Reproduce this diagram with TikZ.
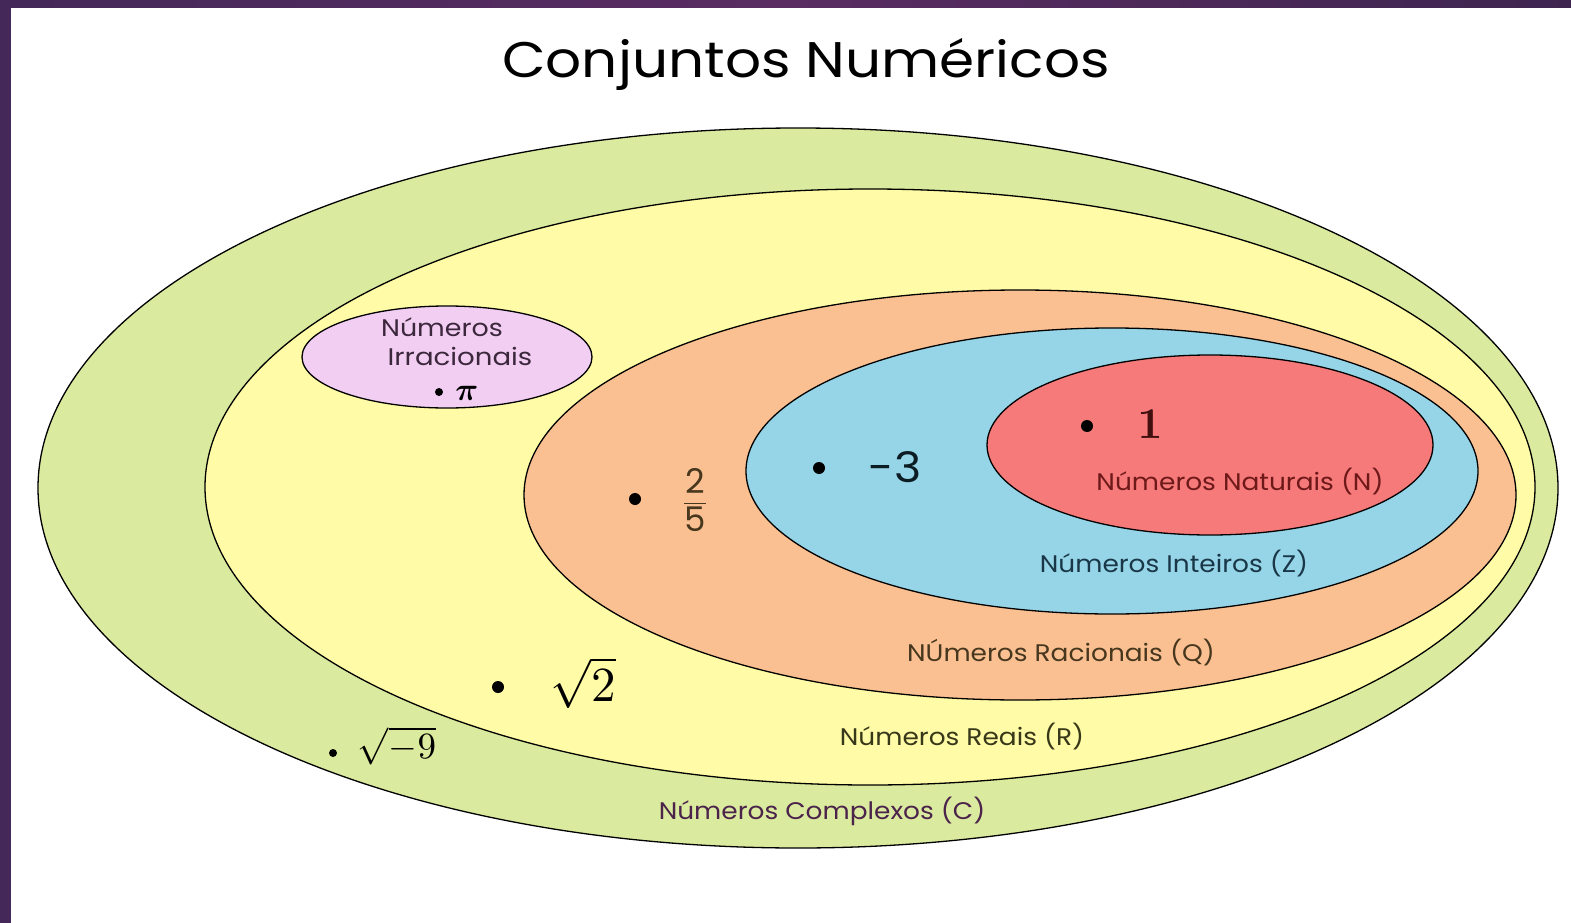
\documentclass[tikz,border=0pt]{standalone}
\usepackage{graphicx}
\usepackage{amsmath}
\usepackage{bm}
\usepackage{fontspec}
\setmainfont{Poppins}
\definecolor{cgreen}{RGB}{218,234,158}
\definecolor{cyellow}{RGB}{255,251,166}
\definecolor{corange}{RGB}{251,192,146}
\definecolor{cblue}{RGB}{150,212,232}
\definecolor{cred}{RGB}{246,122,122}
\definecolor{cpink}{RGB}{243,206,243}
\definecolor{purA}{RGB}{68,40,90}
\definecolor{purB}{RGB}{90,44,98}
\definecolor{purC}{RGB}{62,37,80}
\definecolor{tIrr}{RGB}{60,40,60}
\definecolor{tNat}{RGB}{110,25,25}
\definecolor{tInt}{RGB}{25,55,70}
\definecolor{tRac}{RGB}{70,55,30}
\definecolor{tRea}{RGB}{55,55,25}
\definecolor{tCom}{RGB}{75,35,75}
\newcommand\widetxt[1]{\scalebox{1.1}[1]{#1}}
\tikzset{
  setline/.style={draw=black, line width=1.3pt},
  lab/.style={inner sep=0pt, font=\fontsize{24}{28}\selectfont},
  mth/.style={inner sep=0pt, font=\normalsize},
  bigdot/.style={circle, fill=black, inner sep=0pt, minimum size=12pt},
  smalldot/.style={circle, fill=black, inner sep=0pt, minimum size=8pt},
}
\begin{document}
\begin{tikzpicture}[x=1pt,y=-1pt]
\useasboundingbox (0,0) rectangle (1571,923);
\fill[white] (0,0) rectangle (1571,923);
% purple frame
\shade[left color=purA, right color=purC, middle color=purB] (0,0) rectangle (1571,8);
\fill[purA] (0,0) rectangle (11,923);
% title
\node[inner sep=0pt, font=\fontsize{50}{56}\selectfont] (title) at (806,64) {\scalebox{1.13}[1]{Conjuntos Numéricos}};
% sets
\filldraw[setline, fill=cgreen] (798,488) ellipse [x radius=760pt, y radius=360pt];
\filldraw[setline, fill=cyellow] (870,487) ellipse [x radius=665pt, y radius=298pt];
\filldraw[setline, fill=cpink] (447,357) ellipse [x radius=145pt, y radius=51pt];
\filldraw[setline, fill=corange] (1020,495) ellipse [x radius=496pt, y radius=205pt];
\filldraw[setline, fill=cblue] (1112,471) ellipse [x radius=366pt, y radius=143pt];
\filldraw[setline, fill=cred] (1210,445) ellipse [x radius=223pt, y radius=90pt];
% Irracionais
\node[lab, text=tIrr] (irr1) at (442,327) {\scalebox{1.12}[1]{Números}};
\node[lab, text=tIrr] (irr2) at (460,356) {\scalebox{1.15}[1]{Irracionais}};
\node[smalldot] (dpi) at (439,392) {};
\node[mth, text=black] (pi) at (467,393) {\scalebox{3.2}{$\bm{\pi}$}};
% Naturais
\node[bigdot] (d1) at (1087,426) {};
\node[mth, text=tNat!60!black] (one) at (1150,424) {\scalebox{4.4}{$\bm{1}$}};
\node[lab, text=tNat] (nat) at (1240,482) {\widetxt{Números Naturais (N)}};
% Inteiros
\node[bigdot] (dm3) at (819,468) {};
\node[inner sep=0pt, font=\fontsize{42}{46}\selectfont, text=tInt!50!black] (m3) at (895,467) {\scalebox{1.1}[1]{-3}};
\node[lab, text=tInt] (int) at (1174,564) {\widetxt{Números Inteiros (Z)}};
% Racionais
\node[bigdot] (d25) at (635,499) {};
\node[inner sep=0pt, font=\fontsize{34}{38}\selectfont, text=tRac] (frac) at (695,500) {$\displaystyle\frac{\mbox{2}}{\mbox{5}}$};
\node[lab, text=tRac] (rac) at (1061,653) {\widetxt{NÚmeros Racionais (Q)}};
% Reais
\node[bigdot] (dr2) at (498,687) {};
\node[mth] (r2) at (583,683) {\scalebox{4.9}{$\sqrt{2}$}};
\node[lab, text=tRea] (rea) at (962,737) {\widetxt{Números Reais (R)}};
% Complexos
\node[smalldot] (dm9) at (333,753) {};
\node[mth] (m9) at (397,746) {\scalebox{3.7}{$\sqrt{-9}$}};
\node[lab, text=tCom] (com) at (822,811) {\widetxt{Números Complexos (C)}};
\end{tikzpicture}
\end{document}
